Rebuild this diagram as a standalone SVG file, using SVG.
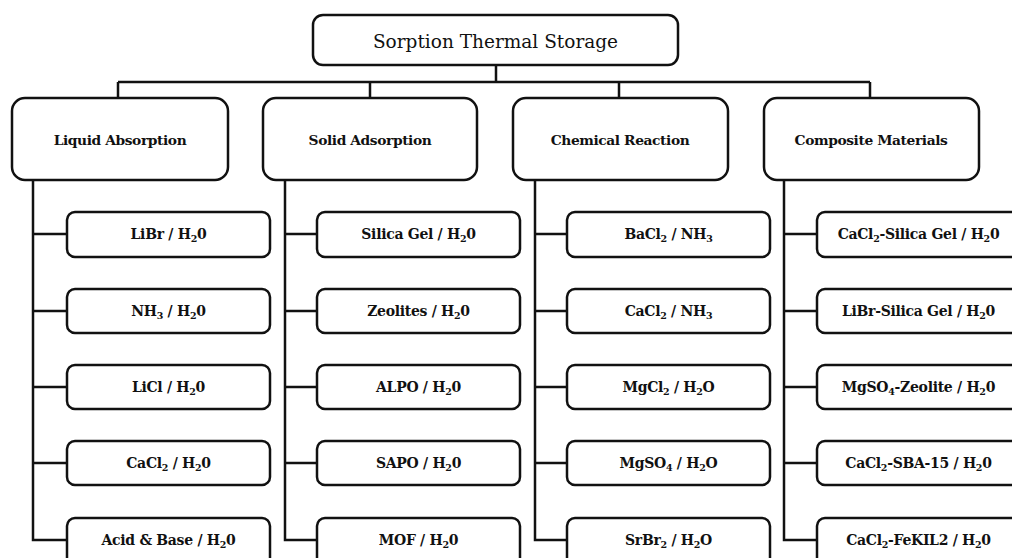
<svg xmlns="http://www.w3.org/2000/svg" width="1012" height="558" viewBox="0 0 1012 558">
<style>
.box{fill:#fff;stroke:#111;stroke-width:2.5}
.ln{fill:none;stroke:#111;stroke-width:2.5}
text{font-family:"DejaVu Serif","Liberation Serif",serif;fill:#111;text-anchor:middle}
.t{font-size:18.5px}
.c{font-size:13.8px;font-weight:bold;letter-spacing:-0.4px}
.l{font-size:14px;font-weight:bold;letter-spacing:-0.3px}
.s{font-size:9.5px}
</style>
<rect width="1012" height="558" fill="#fff"/>
<g id="connectors">
<path class="ln" d="M496 65V82M118 82H870M118 82V98M370 82V98M619 82V98M870 82V98"/>
<path class="ln" d="M33 180V540H67M33 234H67M33 311H67M33 387H67M33 463H67"/>
<path class="ln" d="M285 180V540H317M285 234H317M285 311H317M285 387H317M285 463H317"/>
<path class="ln" d="M535 180V540H567M535 234H567M535 311H567M535 387H567M535 463H567"/>
<path class="ln" d="M784 180V540H817M784 234H817M784 311H817M784 387H817M784 463H817"/>
</g>
<g id="root"><rect class="box" x="313" y="15" width="365" height="50" rx="10"/><text class="t" x="495.5" y="48">Sorption Thermal Storage</text></g>
<g id="cat-liquid"><rect class="box" x="12" y="98" width="216" height="82" rx="13"/><text class="c" x="120" y="145">Liquid Absorption</text></g>
<g id="cat-solid"><rect class="box" x="263" y="98" width="214" height="82" rx="13"/><text class="c" x="370" y="145">Solid Adsorption</text></g>
<g id="cat-chemical"><rect class="box" x="513" y="98" width="215" height="82" rx="13"/><text class="c" x="620" y="145">Chemical Reaction</text></g>
<g id="cat-composite"><rect class="box" x="764" y="98" width="215" height="82" rx="13"/><text class="c" x="871" y="145">Composite Materials</text></g>

<g id="l1"><rect class="box" x="67" y="212" width="203" height="45" rx="8"/><text class="l" x="168.5" y="239">LiBr / H<tspan class="s" dy="3">2</tspan><tspan dy="-3">0</tspan></text></g>
<g id="l2"><rect class="box" x="67" y="289" width="203" height="44" rx="8"/><text class="l" x="168.5" y="316">NH<tspan class="s" dy="3">3</tspan><tspan dy="-3"> / H</tspan><tspan class="s" dy="3">2</tspan><tspan dy="-3">0</tspan></text></g>
<g id="l3"><rect class="box" x="67" y="365" width="203" height="44" rx="8"/><text class="l" x="168.5" y="392">LiCl / H<tspan class="s" dy="3">2</tspan><tspan dy="-3">0</tspan></text></g>
<g id="l4"><rect class="box" x="67" y="441" width="203" height="44" rx="8"/><text class="l" x="168.5" y="468">CaCl<tspan class="s" dy="3">2</tspan><tspan dy="-3"> / H</tspan><tspan class="s" dy="3">2</tspan><tspan dy="-3">0</tspan></text></g>
<g id="l5"><rect class="box" x="67" y="518" width="203" height="50" rx="8"/><text class="l" x="168.5" y="545">Acid &amp; Base / H<tspan class="s" dy="3">2</tspan><tspan dy="-3">0</tspan></text></g>

<g id="s1"><rect class="box" x="317" y="212" width="203" height="45" rx="8"/><text class="l" x="418.5" y="239">Silica Gel / H<tspan class="s" dy="3">2</tspan><tspan dy="-3">0</tspan></text></g>
<g id="s2"><rect class="box" x="317" y="289" width="203" height="44" rx="8"/><text class="l" x="418.5" y="316">Zeolites / H<tspan class="s" dy="3">2</tspan><tspan dy="-3">0</tspan></text></g>
<g id="s3"><rect class="box" x="317" y="365" width="203" height="44" rx="8"/><text class="l" x="418.5" y="392">ALPO / H<tspan class="s" dy="3">2</tspan><tspan dy="-3">0</tspan></text></g>
<g id="s4"><rect class="box" x="317" y="441" width="203" height="44" rx="8"/><text class="l" x="418.5" y="468">SAPO / H<tspan class="s" dy="3">2</tspan><tspan dy="-3">0</tspan></text></g>
<g id="s5"><rect class="box" x="317" y="518" width="203" height="50" rx="8"/><text class="l" x="418.5" y="545">MOF / H<tspan class="s" dy="3">2</tspan><tspan dy="-3">0</tspan></text></g>

<g id="c1"><rect class="box" x="567" y="212" width="203" height="45" rx="8"/><text class="l" x="668.5" y="239">BaCl<tspan class="s" dy="3">2</tspan><tspan dy="-3"> / NH</tspan><tspan class="s" dy="3">3</tspan></text></g>
<g id="c2"><rect class="box" x="567" y="289" width="203" height="44" rx="8"/><text class="l" x="668.5" y="316">CaCl<tspan class="s" dy="3">2</tspan><tspan dy="-3"> / NH</tspan><tspan class="s" dy="3">3</tspan></text></g>
<g id="c3"><rect class="box" x="567" y="365" width="203" height="44" rx="8"/><text class="l" x="668.5" y="392">MgCl<tspan class="s" dy="3">2</tspan><tspan dy="-3"> / H</tspan><tspan class="s" dy="3">2</tspan><tspan dy="-3">O</tspan></text></g>
<g id="c4"><rect class="box" x="567" y="441" width="203" height="44" rx="8"/><text class="l" x="668.5" y="468">MgSO<tspan class="s" dy="3">4</tspan><tspan dy="-3"> / H</tspan><tspan class="s" dy="3">2</tspan><tspan dy="-3">O</tspan></text></g>
<g id="c5"><rect class="box" x="567" y="518" width="203" height="50" rx="8"/><text class="l" x="668.5" y="545">SrBr<tspan class="s" dy="3">2</tspan><tspan dy="-3"> / H</tspan><tspan class="s" dy="3">2</tspan><tspan dy="-3">O</tspan></text></g>

<g id="m1"><rect class="box" x="817" y="212" width="203" height="45" rx="8"/><text class="l" x="918.5" y="239">CaCl<tspan class="s" dy="3">2</tspan><tspan dy="-3">-Silica Gel / H</tspan><tspan class="s" dy="3">2</tspan><tspan dy="-3">0</tspan></text></g>
<g id="m2"><rect class="box" x="817" y="289" width="203" height="44" rx="8"/><text class="l" x="918.5" y="316">LiBr-Silica Gel / H<tspan class="s" dy="3">2</tspan><tspan dy="-3">0</tspan></text></g>
<g id="m3"><rect class="box" x="817" y="365" width="203" height="44" rx="8"/><text class="l" x="918.5" y="392">MgSO<tspan class="s" dy="3">4</tspan><tspan dy="-3">-Zeolite / H</tspan><tspan class="s" dy="3">2</tspan><tspan dy="-3">0</tspan></text></g>
<g id="m4"><rect class="box" x="817" y="441" width="203" height="44" rx="8"/><text class="l" x="918.5" y="468">CaCl<tspan class="s" dy="3">2</tspan><tspan dy="-3">-SBA-15 / H</tspan><tspan class="s" dy="3">2</tspan><tspan dy="-3">0</tspan></text></g>
<g id="m5"><rect class="box" x="817" y="518" width="203" height="50" rx="8"/><text class="l" x="918.5" y="545">CaCl<tspan class="s" dy="3">2</tspan><tspan dy="-3">-FeKIL2 / H</tspan><tspan class="s" dy="3">2</tspan><tspan dy="-3">0</tspan></text></g>
</svg>
